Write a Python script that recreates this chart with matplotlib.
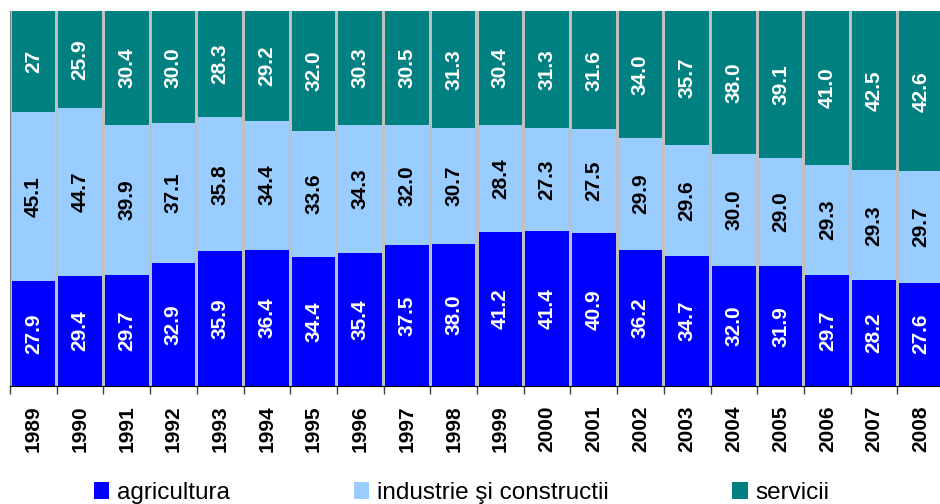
import numpy as np
import matplotlib.pyplot as plt
from matplotlib.ticker import FixedLocator

plt.rcParams['font.family'] = ['Liberation Sans', 'DejaVu Sans']

# date: structura populatiei ocupate pe sectoare (%)
ani = [str(a) for a in range(1989, 2009)]
agricultura = [27.9, 29.4, 29.7, 32.9, 35.9, 36.4, 34.4, 35.4, 37.5, 38.0,
               41.2, 41.4, 40.9, 36.2, 34.7, 32.0, 31.9, 29.7, 28.2, 27.6]
industrie = [45.1, 44.7, 39.9, 37.1, 35.8, 34.4, 33.6, 34.3, 32.0, 30.7,
             28.4, 27.3, 27.5, 29.9, 29.6, 30.0, 29.0, 29.3, 29.3, 29.7]
servicii = [27.0, 25.9, 30.4, 30.0, 28.3, 29.2, 32.0, 30.3, 30.5, 31.3,
            30.4, 31.3, 31.6, 34.0, 35.7, 38.0, 39.1, 41.0, 42.5, 42.6]
etichete_servicii = ["27", "25.9", "30.4", "30.0", "28.3", "29.2", "32.0", "30.3", "30.5", "31.3",
                     "30.4", "31.3", "31.6", "34.0", "35.7", "38.0", "39.1", "41.0", "42.5", "42.6"]

fig = plt.figure(figsize=(9.4, 5.04), dpi=100)
ax = fig.add_axes([10 / 940, 118 / 504, 934 / 940, 375 / 504])
ax.set_facecolor('#c0c0c0')

x = np.arange(len(ani))
w = 0.935
b1 = ax.bar(x, agricultura, w, color='#0000ff', label='agricultura')
b2 = ax.bar(x, industrie, w, bottom=agricultura, color='#99ccff', label='industrie şi constructii')
jos = np.array(agricultura) + np.array(industrie)
b3 = ax.bar(x, servicii, w, bottom=jos, color='#008080', label='servicii')

fs = 15
ax.bar_label(b1, labels=[f"{v:.1f}" for v in agricultura], label_type='center',
             rotation=90, color='white', fontsize=fs, fontweight='bold')
ax.bar_label(b2, labels=[f"{v:.1f}" for v in industrie], label_type='center',
             rotation=90, color='black', fontsize=fs, fontweight='bold')
ax.bar_label(b3, labels=etichete_servicii, label_type='center',
             rotation=90, color='white', fontsize=fs, fontweight='bold')

ax.set_xlim(-0.5, len(ani) - 0.5)
ax.set_ylim(0, 100)
ax.set_yticks([])
ax.set_xticks(x)
ax.set_xticklabels(ani, rotation=90, fontsize=15, fontweight='bold')
ax.tick_params(axis='x', which='major', length=0, pad=14)
ax.xaxis.set_minor_locator(FixedLocator(np.arange(-0.5, len(ani), 1)))
ax.tick_params(axis='x', which='minor', length=6, width=1, color='#404040')

for s in ['top', 'right']:
    ax.spines[s].set_visible(False)
ax.spines['left'].set_color('#808080')
ax.spines['bottom'].set_color('black')

fig.legend(handles=[b1, b2, b3], loc='center', bbox_to_anchor=(0.491, 11 / 504), ncol=3,
           frameon=False, fontsize=17.5, handlelength=0.65, handleheight=0.65,
           handletextpad=0.3, columnspacing=5.1)

fig.savefig('out.png', dpi=100)
